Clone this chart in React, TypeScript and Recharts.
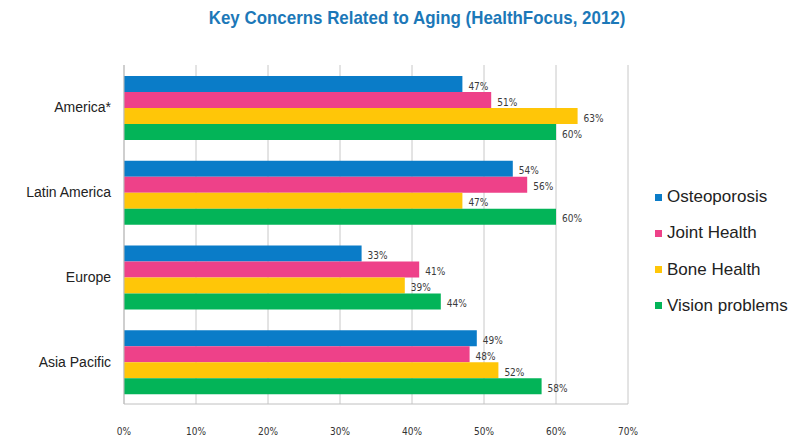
import React from "react";
import { BarChart, Bar, XAxis, YAxis, CartesianGrid, LabelList } from "recharts";

const regions = ["America*", "Latin America", "Europe", "Asia Pacific"];
const osteoporosis = [47, 54, 33, 49];
const jointHealth = [51, 56, 41, 48];
const boneHealth = [63, 47, 39, 52];
const visionProblems = [60, 60, 44, 58];
const xTicks = [0, 10, 20, 30, 40, 50, 60, 70];

const series = [
  { key: "osteoporosis", name: "Osteoporosis", color: "#0A7CC8", values: osteoporosis },
  { key: "jointHealth", name: "Joint Health", color: "#EE4189", values: jointHealth },
  { key: "boneHealth", name: "Bone Health", color: "#FFC608", values: boneHealth },
  { key: "visionProblems", name: "Vision problems", color: "#03B458", values: visionProblems },
];

const data = regions.map((r, i) => {
  const row: any = { region: r };
  series.forEach((s) => (row[s.key] = s.values[i]));
  return row;
});

const labelFont = "'DejaVu Sans Condensed', 'DejaVu Sans', sans-serif";

export default function App() {
  return (
    <div style={{ position: "absolute", left: 0, top: 0, width: 808, height: 438, background: "#fff", fontFamily: "'Liberation Sans', Arial, sans-serif" }}>
      <div
        style={{
          position: "absolute",
          left: 0,
          width: 834,
          top: 7,
          textAlign: "center",
        }}
      >
        <span
          style={{
            display: "inline-block",
            color: "#1C78B8",
            fontWeight: "bold",
            fontSize: 19,
            fontFamily: "'Liberation Sans', Arial, sans-serif",
            transform: "scaleX(0.89)",
            whiteSpace: "nowrap",
          }}
        >
          Key Concerns Related to Aging (HealthFocus, 2012)
        </span>
      </div>
      <BarChart
        width={808}
        height={438}
        data={data}
        layout="vertical"
        margin={{ top: 65, right: 180, bottom: 4, left: 8 }}
        barCategoryGap={11}
        barGap={0}
      >
        <CartesianGrid horizontal={false} vertical={true} stroke="#c8c8c8" />
        <XAxis
          type="number"
          domain={[0, 70]}
          ticks={xTicks}
          tickFormatter={(v) => `${v}%`}
          axisLine={{ stroke: "#c0c0c0" }}
          tickLine={false}
          tickSize={0}
          tickMargin={24}
          height={30}
          tick={{ fontSize: 10, fill: "#333", fontFamily: labelFont }}
          interval={0}
        />
        <YAxis
          type="category"
          dataKey="region"
          width={116}
          axisLine={{ stroke: "#bbbbbb" }}
          tickLine={false}
          tickSize={0}
          tickMargin={13}
          tick={{ fontSize: 14, fill: "#222", fontFamily: "'Liberation Sans', Arial, sans-serif" }}
        />
        {series.map((s) => (
          <Bar key={s.key} dataKey={s.key} name={s.name} fill={s.color} isAnimationActive={false}>
            <LabelList
              dataKey={s.key}
              position="right"
              offset={6}
              formatter={(v: any) => `${v}%`}
              style={{ fontSize: 10, fill: "#3a3a3a", fontFamily: labelFont }}
              dy={2}
            />
          </Bar>
        ))}
      </BarChart>
      {series.map((s, i) => (
        <div
          key={s.key}
          style={{
            position: "absolute",
            left: 655,
            top: 187 + i * 36.3,
            height: 20,
            display: "flex",
            alignItems: "center",
            fontSize: 17,
            color: "#222",
            whiteSpace: "nowrap",
          }}
        >
          <span style={{ display: "inline-block", width: 7, height: 7, background: s.color, marginRight: 5 }} />
          {s.name}
        </div>
      ))}
    </div>
  );
}
